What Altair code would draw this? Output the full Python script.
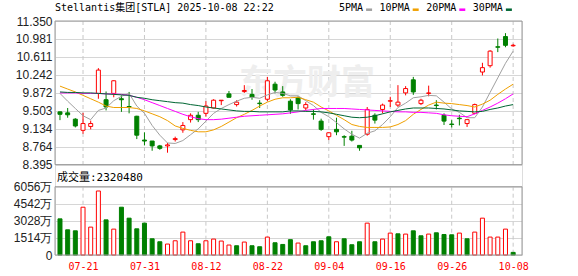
import altair as alt
import pandas as pd

# ---------------- data ----------------
dates = ["07-16", "07-17", "07-18", "07-21", "07-22", "07-23", "07-24", "07-25", "07-28", "07-29",
         "07-30", "07-31", "08-01", "08-04", "08-05", "08-06", "08-07", "08-08", "08-11", "08-12",
         "08-13", "08-14", "08-15", "08-18", "08-19", "08-20", "08-21", "08-22", "08-25", "08-26",
         "08-27", "08-28", "08-29", "09-02", "09-03", "09-04", "09-05", "09-08", "09-09", "09-10",
         "09-11", "09-12", "09-15", "09-16", "09-17", "09-18", "09-19", "09-22", "09-23", "09-24",
         "09-25", "09-26", "09-29", "09-30", "10-01", "10-02", "10-03", "10-06", "10-07", "10-08"]

opens = [9.48, 9.46, 9.33, 9.10, 9.18, 9.86, 9.73, 9.86, 9.75, 9.59,
         9.39, 8.90, 8.88, 8.78, 8.78, 8.91, 9.11, 9.32, 9.41, 9.45,
         9.56, 9.71, 9.85, 9.63, 9.90, 9.84, 9.66, 9.74, 10.05, 9.89,
         9.70, 9.77, 9.56, 9.44, 9.29, 8.97, 9.12, 8.97, 8.98, 8.79,
         9.02, 9.41, 9.53, 9.70, 9.62, 9.87, 10.14, 9.65, 9.86, 9.62,
         9.41, 9.23, 9.35, 9.24, 9.45, 10.30, 10.43, 10.82, 11.03, 10.84]
highs = [9.49, 9.56, 9.35, 9.46, 9.30, 10.38, 9.90, 10.13, 9.82, 9.89,
         9.40, 9.06, 8.88, 8.80, 8.84, 8.97, 9.27, 9.45, 9.48, 9.70,
         9.74, 9.72, 9.91, 9.72, 10.03, 9.95, 9.72, 10.20, 10.10, 10.01,
         9.74, 9.80, 9.68, 9.53, 9.34, 9.06, 9.36, 9.00, 9.09, 8.79,
         9.58, 9.45, 9.65, 9.79, 10.03, 10.01, 10.20, 9.75, 10.02, 9.72,
         9.45, 9.31, 9.42, 9.33, 9.65, 10.49, 10.75, 10.99, 11.10, 10.88]
lows = [9.31, 9.36, 9.16, 9.03, 9.12, 9.75, 9.51, 9.78, 9.48, 9.45,
        8.92, 8.79, 8.68, 8.70, 8.64, 8.87, 9.05, 9.26, 9.27, 9.38,
        9.55, 9.62, 9.78, 9.59, 9.87, 9.73, 9.56, 9.70, 9.86, 9.79,
        9.44, 9.53, 9.51, 9.32, 9.09, 8.90, 9.00, 8.78, 8.87, 8.68,
        8.99, 9.24, 9.45, 9.58, 9.58, 9.82, 9.83, 9.62, 9.80, 9.53,
        9.21, 9.16, 9.20, 9.17, 9.43, 10.23, 10.39, 10.71, 10.81, 10.82]
closes = [9.43, 9.42, 9.19, 9.24, 9.24, 10.34, 9.58, 10.12, 9.73, 9.58,
          9.00, 8.88, 8.78, 8.73, 8.80, 8.93, 9.20, 9.41, 9.32, 9.60,
          9.72, 9.72, 9.78, 9.68, 9.92, 9.78, 9.65, 10.12, 9.93, 9.82,
          9.52, 9.65, 9.63, 9.43, 9.12, 9.05, 9.07, 8.96, 8.90, 8.74,
          9.53, 9.31, 9.62, 9.71, 9.68, 9.96, 9.89, 9.72, 9.87, 9.61,
          9.29, 9.22, 9.34, 9.32, 9.63, 10.39, 10.73, 10.81, 10.85, 10.85]
# volume in 万 (10k shares)
volumes = [3205, 2234, 2145, 4237, 2472, 5676, 3116, 2295, 4237, 3266,
           2322, 2825, 1439, 1174, 971, 1262, 2030, 1262, 998, 1262,
           1412, 1236, 883, 821, 1148, 821, 733, 1589, 1086, 936,
           1360, 1059, 821, 1174, 1262, 1615, 1174, 1439, 909, 1174,
           2825, 1174, 1412, 1942, 1880, 1854, 2145, 1704, 1854, 1969,
           1818, 1792, 1942, 1439, 2030, 3266, 1589, 1589, 2295, 232]
# volume bar colour as seen in the picture (1 = red hollow, 0 = green)
vol_up = [0, 0, 0, 1, 1, 1, 0, 1, 0, 0,
          0, 0, 0, 0, 1, 1, 1, 1, 0, 1,
          1, 1, 1, 0, 1, 0, 0, 1, 0, 0,
          0, 1, 0, 0, 0, 0, 1, 0, 0, 0,
          1, 0, 1, 1, 0, 1, 0, 0, 1, 0,
          0, 0, 1, 0, 1, 1, 1, 1, 1, 0]

ma5 = [9.86, 9.70, 9.55, 9.40, 9.32, 9.51, 9.56, 9.71, 9.80, 9.86,
       9.60, 9.45, 9.20, 9.00, 8.84, 8.83, 8.89, 9.01, 9.13, 9.29,
       9.45, 9.55, 9.63, 9.70, 9.76, 9.78, 9.76, 9.83, 9.88, 9.86,
       9.81, 9.81, 9.71, 9.61, 9.47, 9.38, 9.26, 9.13, 9.02, 8.94,
       9.04, 9.09, 9.22, 9.38, 9.57, 9.66, 9.77, 9.79, 9.82, 9.81,
       9.68, 9.54, 9.47, 9.36, 9.36, 9.58, 9.88, 10.18, 10.48, 10.73]
ma10 = [10.01, 9.95, 9.89, 9.82, 9.75, 9.68, 9.60, 9.57, 9.57, 9.57,
        9.55, 9.50, 9.44, 9.38, 9.30, 9.19, 9.14, 9.10, 9.07, 9.07,
        9.11, 9.18, 9.27, 9.36, 9.43, 9.51, 9.60, 9.68, 9.74, 9.77,
        9.77, 9.78, 9.73, 9.68, 9.58, 9.50, 9.41, 9.32, 9.22, 9.18,
        9.16, 9.16, 9.16, 9.17, 9.22, 9.30, 9.43, 9.53, 9.62, 9.68,
        9.66, 9.65, 9.63, 9.61, 9.58, 9.64, 9.72, 9.84, 9.95, 10.05]
ma20 = [9.87, 9.87, 9.87, 9.86, 9.86, 9.86, 9.85, 9.85, 9.84, 9.82,
        9.78, 9.73, 9.67, 9.61, 9.55, 9.49, 9.43, 9.38, 9.34, 9.32,
        9.32, 9.33, 9.35, 9.37, 9.39, 9.40, 9.41, 9.42, 9.43, 9.44,
        9.46, 9.48, 9.51, 9.53, 9.55, 9.55, 9.55, 9.55, 9.54, 9.53,
        9.52, 9.51, 9.50, 9.49, 9.48, 9.48, 9.47, 9.47, 9.46, 9.45,
        9.42, 9.40, 9.39, 9.38, 9.44, 9.51, 9.58, 9.66, 9.75, 9.85]
ma30 = [9.89, 9.88, 9.88, 9.87, 9.87, 9.86, 9.85, 9.84, 9.83, 9.82,
        9.78, 9.76, 9.73, 9.71, 9.69, 9.67, 9.66, 9.63, 9.61, 9.58,
        9.56, 9.54, 9.52, 9.50, 9.49, 9.49, 9.48, 9.48, 9.48, 9.48,
        9.50, 9.50, 9.49, 9.49, 9.48, 9.46, 9.43, 9.40, 9.37, 9.36,
        9.37, 9.40, 9.44, 9.48, 9.51, 9.54, 9.56, 9.56, 9.56, 9.55,
        9.54, 9.52, 9.50, 9.49, 9.48, 9.49, 9.53, 9.56, 9.60, 9.63]

ma_names = ["5PMA", "10PMA", "20PMA", "30PMA"]
ma_colors = ["#a0a0a0", "#f0a000", "#ff00ff", "#006633"]
price_ticks = [8.395, 8.764, 9.134, 9.503, 9.872, 10.242, 10.611, 10.981, 11.350]
vol_ticks = [0, 1514, 3028, 4542, 6056]
label_dates = ["07-21", "07-31", "08-12", "08-22", "09-04", "09-16", "09-26", "10-08"]
title_text = "Stellantis集团[STLA] 2025-10-08 22:22"
vol_text = "成交量:2320480"
watermark_text = "东方财富"

# ---------------- layout constants ----------------
W, H = 467, 234
PRICE_H = 143.6
VOL_H = 68.3
MONO = "DejaVu Sans Mono, Noto Sans CJK SC"
UP, DOWN = "#ff0000", "#008000"

df = pd.DataFrame({"i": range(len(dates)), "date": dates, "open": opens, "high": highs,
                   "low": lows, "close": closes, "vol": volumes})
df["dir"] = ["up" if c >= o else "down" for o, c in zip(opens, closes)]
df["vdir"] = ["up" if u else "down" for u in vol_up]

ma_df = pd.concat([
    pd.DataFrame({"i": range(len(dates)), "date": dates, "ma": n, "value": v})
    for n, v in zip(ma_names, [ma5, ma10, ma20, ma30])
], ignore_index=True)

p_lo, p_hi = price_ticks[0], price_ticks[-1]
price_scale = alt.Scale(domain=[p_hi - (p_hi - p_lo) * H / PRICE_H, p_hi], zero=False, nice=False)
vol_scale = alt.Scale(domain=[0, vol_ticks[-1] * H / VOL_H], zero=False, nice=False)
x_scale = alt.Scale(type="point", domain=dates, padding=0.9, align=0.36, round=False)
stroke_scale = alt.Scale(domain=["up", "down"], range=[UP, DOWN])
fill_scale = alt.Scale(domain=["up", "down"], range=["#ffffff", DOWN])


def xenc():
    return alt.X("date:N", scale=x_scale,
                 axis=alt.Axis(values=label_dates, title=None, labelColor="#ff0000", labelFont=MONO,
                               labelFontSize=10, labelPadding=6, ticks=False, domain=False,
                               grid=False, labelAngle=0, labelOverlap=False))


price_axis = alt.Axis(values=price_ticks, format=".3f", title=None, ticks=False, domain=False,
                      labelPadding=3, labelFont="Liberation Sans", labelFontSize=12, labelColor="#222",
                      grid=True, gridColor="#d6d6d6", labelOverlap=False, orient="left")
vol_axis = alt.Axis(values=vol_ticks, labelExpr="datum.value == 0 ? '0' : datum.value + '万'",
                    title=None, ticks=False, domain=False, labelPadding=3, labelFont="Liberation Sans",
                    labelFontSize=12, labelColor="#222", grid=True, gridColor="#d6d6d6",
                    labelOverlap=False, orient="left")

one = alt.Data(values=[{"k": 0}])

# vertical dashed grid lines
vgrid_price = alt.Chart(df).transform_filter(
    alt.FieldOneOfPredicate(field="date", oneOf=label_dates)
).mark_rule(color="#c8c8c8", strokeDash=[4, 3]).encode(x=xenc(), y=alt.value(0), y2=alt.value(PRICE_H))
vgrid_vol = alt.Chart(df).transform_filter(
    alt.FieldOneOfPredicate(field="date", oneOf=label_dates)
).mark_rule(color="#c8c8c8", strokeDash=[4, 3]).encode(x=xenc(), y=alt.value(H - VOL_H), y2=alt.value(H))

watermark = alt.Chart(alt.Data(values=[{"t": watermark_text}])).mark_text(
    font="Noto Sans CJK SC", fontSize=34, fontWeight="bold", color="#eeeeee", align="center", baseline="middle"
).encode(x=alt.value(252), y=alt.value(63), text="t:N")

wick = alt.Chart(df).mark_rule(strokeWidth=1).encode(
    x=xenc(), y=alt.Y("low:Q", scale=price_scale, axis=price_axis), y2="high:Q",
    stroke=alt.Stroke("dir:N", scale=stroke_scale, legend=None))
body = alt.Chart(df).mark_bar(size=4, strokeWidth=1).encode(
    x=xenc(), y=alt.Y("open:Q", scale=price_scale, axis=price_axis), y2="close:Q",
    fill=alt.Fill("dir:N", scale=fill_scale, legend=None),
    stroke=alt.Stroke("dir:N", scale=stroke_scale, legend=None))
ma_lines = alt.Chart(ma_df).mark_line(strokeWidth=1).encode(
    x=xenc(), y=alt.Y("value:Q", scale=price_scale, axis=price_axis),
    color=alt.Color("ma:N", scale=alt.Scale(domain=ma_names, range=ma_colors), legend=None),
    order="i:Q")

vol_bars = alt.Chart(df).mark_bar(size=4, strokeWidth=1).encode(
    x=xenc(), y=alt.Y("vol:Q", scale=vol_scale, axis=vol_axis),
    fill=alt.Fill("vdir:N", scale=fill_scale, legend=None),
    stroke=alt.Stroke("vdir:N", scale=stroke_scale, legend=None))

frame_price = alt.Chart(one).mark_rect(fillOpacity=0, stroke="#9a9a9a", strokeWidth=1).encode(
    x=alt.value(0), x2=alt.value(W), y=alt.value(0), y2=alt.value(PRICE_H))
frame_vol = alt.Chart(one).mark_rect(fillOpacity=0, stroke="#9a9a9a", strokeWidth=1).encode(
    x=alt.value(0), x2=alt.value(W), y=alt.value(H - VOL_H), y2=alt.value(H))

title_layer = alt.Chart(alt.Data(values=[{"t": title_text}])).mark_text(
    align="left", baseline="middle", font=MONO, fontSize=10, color="#000000"
).encode(x=alt.value(0), y=alt.value(-13), text="t:N")
vol_label = alt.Chart(alt.Data(values=[{"t": vol_text}])).mark_text(
    align="left", baseline="middle", font=MONO, fontSize=11, color="#000000"
).encode(x=alt.value(2), y=alt.value(156.5), text="t:N")

# legend layout (computed from label lengths)
char_w = 6.02
lx = 284.0
leg_rows = []
for n, c in zip(ma_names, ma_colors):
    x0 = lx + len(n) * char_w + 3
    leg_rows.append({"name": n, "col": c, "tx": lx, "d0": x0, "d1": x0 + 6})
    lx = x0 + 6 + 7.5
leg_df = pd.DataFrame(leg_rows)
leg_text = alt.Chart(leg_df).mark_text(align="left", baseline="middle", font=MONO, fontSize=10,
                                       color="#000000").encode(
    x=alt.X("tx:Q", scale=None), y=alt.value(-12.7), text="name:N")
leg_dash = alt.Chart(leg_df).mark_rule(strokeWidth=2.5).encode(
    x=alt.X("d0:Q", scale=None), x2="d1:Q", y=alt.value(-11.3),
    color=alt.Color("col:N", scale=None))

price_group = alt.layer(vgrid_price, watermark, wick, body, ma_lines, frame_price)
vol_group = alt.layer(vgrid_vol, vol_bars, frame_vol)

chart = alt.layer(price_group, vol_group, title_layer, vol_label, leg_text, leg_dash).resolve_scale(
    y="independent"
).properties(
    width=W, height=H,
    padding={"left": 55, "top": 21, "right": 56, "bottom": 21},
    autosize=alt.AutoSizeParams(type="none"),
).configure_view(strokeWidth=0).configure(background="#ffffff")

chart.save("out.html", embed_options={"renderer": "svg", "actions": False})
